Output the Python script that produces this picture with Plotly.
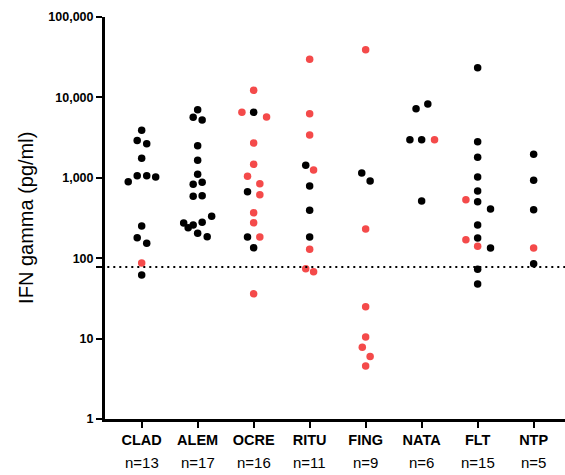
import plotly.graph_objects as go

categories = ["CLAD", "ALEM", "OCRE", "RITU", "FING", "NATA", "FLT", "NTP"]
n_labels = ["n=13", "n=17", "n=16", "n=11", "n=9", "n=6", "n=15", "n=5"]

y_tickvals = [1, 10, 100, 1000, 10000, 100000]
y_ticktext = ["1", "10", "100", "1,000", "10,000", "100,000"]
cutoff = 78

# values (pg/ml), red flag (1 = red), horizontal spread (category units)
clad_vals = [3900, 2900, 2650, 1750, 1062, 1062, 1023, 894, 251, 180, 153, 87, 62]
clad_red = [0, 0, 0, 0, 0, 0, 0, 0, 0, 0, 0, 1, 0]
clad_off = [0, -0.08, 0.09, 0, -0.08, 0.09, 0.25, -0.24, 0, -0.08, 0.09, 0, 0]

alem_vals = [7030, 5650, 5240, 2510, 1650, 1105, 830, 879, 590, 600, 332, 274, 240, 259, 280, 204, 185]
alem_red = [0] * 17
alem_off = [0, -0.08, 0.08, 0, 0, 0, -0.08, 0.08, -0.08, 0.08, 0.25, -0.25, -0.17, -0.08, 0.08, 0, 0.17]

ocre_vals = [12250, 6530, 6530, 5700, 2710, 1470, 1044, 845, 671, 616, 368, 276, 183, 183, 135, 36]
ocre_red = [1, 1, 0, 1, 1, 1, 1, 1, 0, 1, 1, 1, 0, 1, 0, 1]
ocre_off = [0, -0.21, 0, 0.23, 0, 0, -0.11, 0.11, -0.11, 0.11, 0, 0, -0.11, 0.11, 0, 0]

ritu_vals = [29800, 6270, 3410, 1430, 1250, 791, 394, 183, 129, 74, 68]
ritu_red = [1, 1, 1, 0, 1, 0, 0, 0, 1, 1, 1]
ritu_off = [0, 0, 0, -0.07, 0.07, 0, 0, 0, 0, -0.07, 0.07]

fing_vals = [39200, 1147, 913, 231, 24.9, 10.5, 7.8, 6.0, 4.56]
fing_red = [1, 0, 0, 1, 1, 1, 1, 1, 1]
fing_off = [0, -0.07, 0.08, 0, 0, 0, -0.06, 0.08, 0]

nata_vals = [7230, 8280, 2980, 2980, 2980, 515]
nata_red = [0, 0, 0, 0, 1, 0]
nata_off = [-0.10, 0.11, -0.21, 0, 0.23, 0]

flt_vals = [23400, 2810, 1800, 1023, 685, 534, 504, 409, 259, 170, 178, 141, 134, 73, 47.8]
flt_red = [0, 0, 0, 0, 0, 1, 0, 0, 0, 1, 0, 1, 0, 0, 0]
flt_off = [0, 0, 0, 0, 0, -0.21, 0, 0.23, 0, -0.21, 0, 0, 0.23, 0, 0]

ntp_vals = [1960, 931, 401, 134, 85.5]
ntp_red = [0, 0, 0, 1, 0]
ntp_off = [0, 0, 0, 0, 0]

groups = [
    (clad_vals, clad_red, clad_off),
    (alem_vals, alem_red, alem_off),
    (ocre_vals, ocre_red, ocre_off),
    (ritu_vals, ritu_red, ritu_off),
    (fing_vals, fing_red, fing_off),
    (nata_vals, nata_red, nata_off),
    (flt_vals, flt_red, flt_off),
    (ntp_vals, ntp_red, ntp_off),
]

RED = "#F44A4A"
BLACK = "#000000"
FONT = "Liberation Sans, Arial, sans-serif"

fig = go.Figure()
for flag, color in [(0, BLACK), (1, RED)]:
    xs, ys = [], []
    for i, (vals, reds, offs) in enumerate(groups):
        for v, r, o in zip(vals, reds, offs):
            if r == flag:
                xs.append(i + o)
                ys.append(v)
    fig.add_trace(go.Scatter(
        x=xs, y=ys, mode="markers",
        marker=dict(size=7.5, color=color, line=dict(width=0)),
        cliponaxis=False, showlegend=False, hoverinfo="skip",
    ))

fig.add_shape(type="line", xref="paper", yref="y", x0=0.005, x1=1, y0=cutoff, y1=cutoff,
              line=dict(color="black", width=2, dash="2px,4px"))

annotations = []
for i, t in enumerate(n_labels):
    annotations.append(dict(x=i, y=-0.107, xref="x", yref="paper", text=t, showarrow=False,
                            font=dict(family=FONT, size=15, color="black"),
                            xanchor="center", yanchor="middle"))
annotations.append(dict(x=-0.172, y=0.5, xref="paper", yref="paper", text="IFN gamma (pg/ml)",
                        textangle=-90, showarrow=False,
                        font=dict(family=FONT, size=20, color="black"),
                        xanchor="center", yanchor="middle"))

fig.update_layout(
    width=565, height=475,
    margin=dict(l=105, r=0, t=17, b=56),
    paper_bgcolor="white", plot_bgcolor="white",
    annotations=annotations,
    xaxis=dict(
        range=[-0.655, 7.56], tickvals=list(range(len(categories))),
        ticktext=["<b>%s</b>" % c for c in categories],
        ticks="outside", ticklen=6, tickwidth=2, tickcolor="black",
        showline=True, linewidth=3, linecolor="black", showgrid=False, zeroline=False,
        tickfont=dict(family=FONT, size=14.5, color="black"),
    ),
    yaxis=dict(
        type="log", range=[0, 5],
        tickvals=y_tickvals + [cutoff],
        ticktext=["<b>%s</b>" % t for t in y_ticktext] + [""],
        ticks="outside", ticklen=6, tickwidth=2, tickcolor="black",
        showline=True, linewidth=3, linecolor="black", showgrid=False, zeroline=False,
        tickfont=dict(family=FONT, size=12.5, color="black"),
    ),
)

fig.write_html("out.html", config={"displayModeBar": False},
               post_script="document.body.style.margin='0px';document.body.style.padding='0px';")
